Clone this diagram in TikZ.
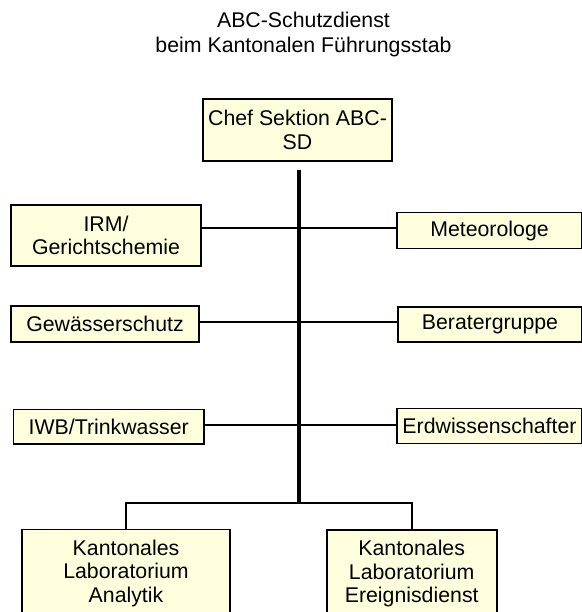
\documentclass[tikz,border=0pt]{standalone}
\usepackage{fontspec}
\setmainfont{Liberation Sans}
\definecolor{boxfill}{RGB}{255,255,221}
\begin{document}
\begin{tikzpicture}[x=1pt,y=-1pt,
  orgbox/.style={draw=black,line width=1.6pt,fill=boxfill,inner sep=0pt,align=center,font=\fontsize{21.3}{23.5}\selectfont},
  titletext/.style={inner sep=0pt,font=\fontsize{21.3}{25}\selectfont,anchor=base},
  link/.style={line width=1.8pt},
  trunk/.style={line width=4.5pt}]
\useasboundingbox (0,0) rectangle (581,612);
\fill[white] (0,0) rectangle (581,612);

\node[titletext] (t1) at (303.5,28) {ABC-Schutzdienst};
\node[titletext] (t2) at (303.5,53) {beim Kantonalen Führungsstab};

\coordinate (j) at (299,503.3);

\node[orgbox,minimum width=189pt,minimum height=62pt] (chef) at (297.5,130) {Chef Sektion ABC-\\SD};
\node[orgbox,minimum width=190pt,minimum height=61pt] (irm) at (106,235.5) {IRM/\\Gerichtschemie};
\node[orgbox,minimum width=185pt,minimum height=35.6pt] (met) at (489.5,230.5) {Meteorologe};
\node[orgbox,minimum width=188pt,minimum height=36pt] (gew) at (105,324) {Gewässerschutz};
\node[orgbox,minimum width=184pt,minimum height=35pt] (ber) at (490,324.2) {Beratergruppe};
\node[orgbox,minimum width=190.7pt,minimum height=34.7pt] (iwb) at (108.7,426.7) {IWB/Trinkwasser};
\node[orgbox,minimum width=185pt,minimum height=35pt] (erd) at (489.5,425.8) {Erdwissenschafter};
\node[orgbox,minimum width=208.3pt,minimum height=87pt] (kla) at (126,573) {Kantonales\\Laboratorium\\Analytik};
\node[orgbox,minimum width=170pt,minimum height=87pt] (kle) at (411.7,573.5) {Kantonales\\Laboratorium\\Ereignisdienst};

\draw[link] ([yshift=7.2pt]irm.east) -- ([yshift=7.2pt]irm.east -| met.west);
\draw[link] ([yshift=1.7pt]gew.east) -- ([yshift=1.7pt]gew.east -| ber.west);
\draw[link] ([yshift=1.7pt]iwb.east) -- ([yshift=1.7pt]iwb.east -| erd.west);
\draw[link] (kla.north) |- (j) -| (kle.north);
\draw[trunk] ([yshift=-8.3pt]chef.south -| j) -- ([yshift=-0.9pt]j);
\end{tikzpicture}
\end{document}
